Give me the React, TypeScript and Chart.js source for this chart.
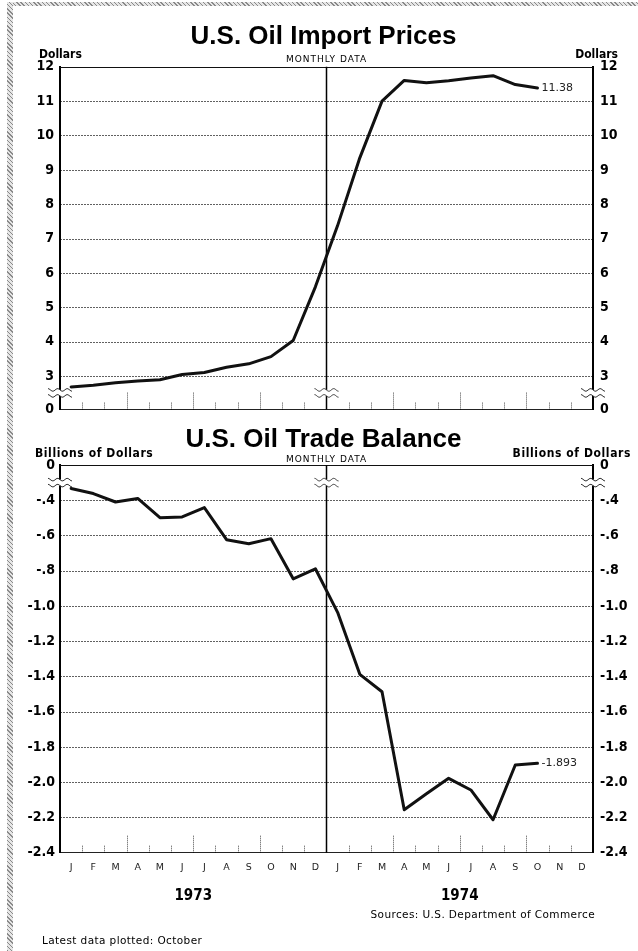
import React, { useEffect, useRef } from 'react';
import { Chart, registerables } from 'chart.js';

Chart.register(...registerables);

// ---------- data ----------
const monthLabels = ['J', 'F', 'M', 'A', 'M', 'J', 'J', 'A', 'S', 'O', 'N', 'D', 'J', 'F', 'M', 'A', 'M', 'J', 'J', 'A', 'S', 'O', 'N', 'D'];
const yearLabels = ['1973', '1974'];
const importPrices = [2.69, 2.74, 2.81, 2.86, 2.9, 3.05, 3.11, 3.26, 3.36, 3.57, 4.04, 5.6, 7.38, 9.35, 11.0, 11.6, 11.53, 11.59, 11.67, 11.74, 11.48, 11.38, null, null];
const tradeBalance = [-0.333, -0.362, -0.41, -0.39, -0.499, -0.495, -0.442, -0.624, -0.647, -0.618, -0.846, -0.789, -1.036, -1.388, -1.487, -2.156, -2.066, -1.978, -2.044, -2.213, -1.902, -1.893, null, null];
const priceTicks = [3, 4, 5, 6, 7, 8, 9, 10, 11, 12];
const priceBreakFloor = 2.03; // broken axis floor, labelled "0"
const balanceTicks = [-0.4, -0.6, -0.8, -1.0, -1.2, -1.4, -1.6, -1.8, -2.0, -2.2, -2.4];
const balanceBreakCeiling = -0.2; // broken axis ceiling, labelled "0"
const priceEndLabel = '11.38';
const balanceEndLabel = '-1.893';

// ---------- styles ----------
const COND = '"DejaVu Sans Condensed", "Liberation Sans Narrow", Roboto, sans-serif';
const TITLE = '"Liberation Sans", Arial, sans-serif';
const LIGHT = '"DejaVu Sans", "Open Sans", sans-serif';

const fmtBalance = (v: number) => {
  if (v === balanceBreakCeiling) return '0';
  if (v > -1) return '-.' + String(Math.round(-v * 10));
  return v.toFixed(1);
};

function drawBreak(ctx: CanvasRenderingContext2D, x: number, y: number) {
  ctx.save();
  ctx.fillStyle = '#fff';
  ctx.fillRect(x - 3, y - 3, 6, 6);
  ctx.strokeStyle = '#333';
  ctx.lineWidth = 1;
  for (const dy of [-3, 3]) {
    ctx.beginPath();
    for (let t = -12; t <= 12; t++) {
      const yy = y + dy + Math.sin((t / 12) * Math.PI * 2.5) * 1.3;
      if (t === -12) ctx.moveTo(x + t, yy);
      else ctx.lineTo(x + t, yy);
    }
    ctx.stroke();
  }
  ctx.restore();
}

const figurePlugin = {
  id: 'figure',
  beforeDatasetsDraw(chart: any, _a: any, o: any) {
    const { ctx, chartArea: a } = chart;
    const x = chart.scales.x;
    const y = chart.scales.y;
    const step = x.getPixelForValue(1) - x.getPixelForValue(0);
    const boundary = (i: number) => x.getPixelForValue(i) - step / 2;
    ctx.save();
    // horizontal grid
    y.ticks.forEach((t: any) => {
      if (t.value === y.min) return;
      const py = Math.round(y.getPixelForValue(t.value)) + 0.5;
      ctx.beginPath();
      if (t.value === y.max) {
        ctx.setLineDash([]);
        ctx.strokeStyle = '#111';
      } else {
        ctx.setLineDash([2, 1]);
        ctx.strokeStyle = 'rgba(0,0,0,0.62)';
      }
      ctx.lineWidth = 1;
      ctx.moveTo(a.left, py);
      ctx.lineTo(a.right, py);
      ctx.stroke();
    });
    // month tick marks rising from the bottom
    ctx.setLineDash([1, 1]);
    ctx.strokeStyle = 'rgba(0,0,0,0.7)';
    for (let i = 1; i < monthLabels.length; i++) {
      if (i === 12) continue;
      const bx = Math.round(boundary(i)) + 0.5;
      const len = i % 3 === 0 ? 18 : 8;
      ctx.beginPath();
      ctx.moveTo(bx, a.bottom);
      ctx.lineTo(bx, a.bottom - len);
      ctx.stroke();
    }
    // year divider
    ctx.setLineDash([]);
    ctx.strokeStyle = '#000';
    ctx.lineWidth = 1.5;
    const dx = boundary(12);
    ctx.beginPath();
    ctx.moveTo(dx, a.top);
    ctx.lineTo(dx, a.bottom);
    ctx.stroke();
    ctx.restore();
  },
  afterDatasetsDraw(chart: any, _a: any, o: any) {
    const { ctx, chartArea: a } = chart;
    const x = chart.scales.x;
    const y = chart.scales.y;
    const step = x.getPixelForValue(1) - x.getPixelForValue(0);
    const boundary = (i: number) => x.getPixelForValue(i) - step / 2;
    const by = y.getPixelForValue(o.breakMid);
    [a.left, boundary(12), a.right].forEach((bx) => drawBreak(ctx, bx, by));

    // end label
    const data = chart.data.datasets[0].data;
    let last = data.length - 1;
    while (last >= 0 && data[last] == null) last--;
    const pt = chart.getDatasetMeta(0).data[last];
    ctx.save();
    ctx.fillStyle = '#222';
    ctx.font = '11px ' + LIGHT;
    ctx.textBaseline = 'middle';
    ctx.textAlign = 'left';
    ctx.fillText(o.endLabel, pt.x + 4, pt.y);

    const cx = (a.left + a.right) / 2;
    // title
    ctx.fillStyle = '#000';
    ctx.textBaseline = 'alphabetic';
    ctx.textAlign = 'center';
    ctx.font = 'bold 26px ' + TITLE;
    ctx.fillText(o.title, cx - 3, o.titleBaseline);
    // subtitle
    ctx.font = '9px ' + LIGHT;
    (ctx as any).letterSpacing = '1px';
    ctx.fillText('MONTHLY DATA', cx, o.subtitleBaseline);
    (ctx as any).letterSpacing = o.unitSpacing;
    // unit labels
    ctx.font = 'bold 12px ' + COND;
    ctx.textAlign = 'left';
    ctx.fillText(o.unit, o.unitLeftX, o.unitBaseline);
    ctx.textAlign = 'right';
    ctx.fillText(o.unit, o.unitRightX, o.unitBaseline);
    (ctx as any).letterSpacing = '0px';

    if (o.footer) {
      ctx.textAlign = 'center';
      ctx.textBaseline = 'middle';
      ctx.font = 'bold 15px ' + COND;
      yearLabels.forEach((lab, k) => {
        const xc = (boundary(k * 12) + boundary(k * 12 + 12)) / 2;
        ctx.fillText(lab, xc, o.yearMiddle);
      });
      ctx.textBaseline = 'alphabetic';
      ctx.font = '10.5px ' + LIGHT;
      (ctx as any).letterSpacing = '0.4px';
      ctx.textAlign = 'right';
      ctx.fillText('Sources: U.S. Department of Commerce', a.right + 2, o.sourceBaseline);
      ctx.textAlign = 'left';
      ctx.fillText('Latest data plotted: October', 42, o.latestBaseline);
      (ctx as any).letterSpacing = '0px';
    }
    ctx.restore();
  },
};

const tickFont = { family: COND, weight: 'bold' as const, size: 14 };

function yAxis(position: 'left' | 'right', min: number, max: number, ticks: number[], fmt: (v: number) => string, width: number, pad: number) {
  return {
    type: 'linear',
    position,
    min,
    max,
    afterBuildTicks: (s: any) => {
      s.ticks = ticks.map((value) => ({ value }));
    },
    ticks: {
      callback: (v: number) => fmt(v),
      font: tickFont,
      color: '#000',
      padding: pad,
      autoSkip: false,
    },
    grid: { display: false, drawTicks: false },
    border: { display: true, color: '#000', width: 2 },
    afterFit: (s: any) => {
      s.width = width;
    },
  };
}

function topConfig(): any {
  const allTicks = [priceBreakFloor, ...priceTicks];
  const max = Math.max(...priceTicks);
  const fmt = (v: number) => (v === priceBreakFloor ? '0' : String(v));
  return {
    type: 'line',
    data: {
      labels: monthLabels,
      datasets: [
        {
          data: importPrices,
          borderColor: '#111',
          borderWidth: 3,
          pointRadius: 0,
          tension: 0,
          borderJoinStyle: 'round',
          borderCapStyle: 'round',
          yAxisID: 'y',
        },
      ],
    },
    options: {
      responsive: false,
      animation: false,
      events: [],
      layout: { padding: { top: 66.7, bottom: 6.7, left: 0, right: 0 } },
      plugins: {
        legend: { display: false },
        tooltip: { enabled: false },
        figure: {
          title: 'U.S. Oil Import Prices',
          titleBaseline: 44,
          subtitleBaseline: 62,
          unit: 'Dollars',
          unitBaseline: 58,
          unitLeftX: 39,
          unitRightX: 618,
          unitSpacing: '0px',
          breakMid: (priceBreakFloor + priceTicks[0]) / 2,
          endLabel: priceEndLabel,
          footer: false,
        },
      },
      scales: {
        x: {
          type: 'category',
          offset: true,
          grid: { display: false, drawTicks: false },
          ticks: { display: false },
          border: { display: true, color: '#222', width: 1 },
          afterFit: (s: any) => {
            s.height = 0;
          },
        },
        y: yAxis('left', priceBreakFloor, max, allTicks, fmt, 60, 6),
        y2: yAxis('right', priceBreakFloor, max, allTicks, fmt, 45, 7),
      },
    },
    plugins: [figurePlugin],
  };
}

function bottomConfig(): any {
  const allTicks = [balanceBreakCeiling, ...balanceTicks];
  const min = Math.min(...balanceTicks);
  return {
    type: 'line',
    data: {
      labels: monthLabels,
      datasets: [
        {
          data: tradeBalance,
          borderColor: '#111',
          borderWidth: 3,
          pointRadius: 0,
          tension: 0,
          borderJoinStyle: 'round',
          borderCapStyle: 'round',
          yAxisID: 'y',
        },
      ],
    },
    options: {
      responsive: false,
      animation: false,
      events: [],
      layout: { padding: { top: 40, bottom: 0, left: 0, right: 0 } },
      plugins: {
        legend: { display: false },
        tooltip: { enabled: false },
        figure: {
          title: 'U.S. Oil Trade Balance',
          titleBaseline: 22,
          subtitleBaseline: 37,
          unit: 'Billions of Dollars',
          unitBaseline: 32,
          unitLeftX: 35,
          unitRightX: 631,
          unitSpacing: '0.6px',
          breakMid: (balanceBreakCeiling + balanceTicks[0]) / 2,
          endLabel: balanceEndLabel,
          footer: true,
          yearMiddle: 471,
          sourceBaseline: 493,
          latestBaseline: 519,
        },
      },
      scales: {
        x: {
          type: 'category',
          offset: true,
          grid: { display: false, drawTicks: false },
          ticks: {
            display: true,
            autoSkip: false,
            maxRotation: 0,
            padding: 9,
            color: '#222',
            font: { family: LIGHT, size: 9.5 },
          },
          border: { display: true, color: '#222', width: 1 },
          afterFit: (s: any) => {
            s.height = 98.3;
          },
        },
        y: yAxis('left', min, balanceBreakCeiling, allTicks, fmtBalance, 60, 5),
        y2: yAxis('right', min, balanceBreakCeiling, allTicks, fmtBalance, 45, 7),
      },
    },
    plugins: [figurePlugin],
  };
}

const hatch = 'repeating-linear-gradient(45deg, #8a8a8a 0px, #8a8a8a 1px, #e6e6e6 1px, #e6e6e6 3px)';

export default function App() {
  const topRef = useRef<HTMLCanvasElement>(null);
  const botRef = useRef<HTMLCanvasElement>(null);
  useEffect(() => {
    const c1 = new Chart(topRef.current as HTMLCanvasElement, topConfig());
    const c2 = new Chart(botRef.current as HTMLCanvasElement, bottomConfig());
    return () => {
      c1.destroy();
      c2.destroy();
    };
  }, []);
  return (
    <div style={{ position: 'absolute', left: 0, top: 0, width: 638, height: 951, background: '#fff', overflow: 'hidden' }}>
      <div style={{ position: 'absolute', left: 7, top: 2, width: 631, height: 4, background: hatch }} />
      <div style={{ position: 'absolute', left: 7, top: 2, width: 6, height: 949, background: hatch }} />
      <canvas ref={topRef} width={638} height={425} style={{ position: 'absolute', left: 0, top: 0 }} />
      <canvas ref={botRef} width={638} height={526} style={{ position: 'absolute', left: 0, top: 425 }} />
    </div>
  );
}
